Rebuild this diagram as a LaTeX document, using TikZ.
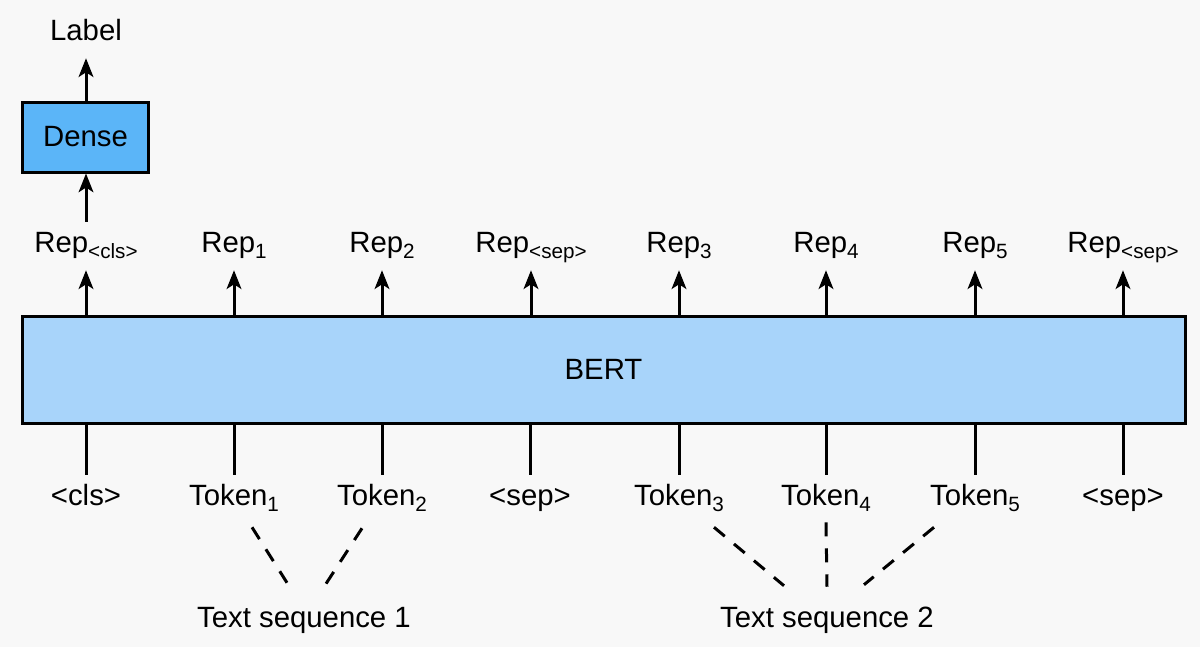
\documentclass[tikz,border=0pt]{standalone}
\usepackage{fontspec}
\setmainfont{Liberation Sans}
\usetikzlibrary{arrows.meta,calc}
\definecolor{bgc}{HTML}{F8F8F8}
\definecolor{bertc}{HTML}{A8D4FA}
\definecolor{densec}{HTML}{5BB5F8}
\newcommand{\subx}[1]{\raisebox{-4.5pt}{\fontsize{15.5}{15.5}\selectfont #1}}
\tikzset{
  lbl/.style={font=\fontsize{22}{26}\selectfont, text height=15pt, text depth=6pt, inner xsep=0pt, inner ysep=7.5pt, anchor=base},
  boxx/.style={draw=black, line width=2.25pt, font=\fontsize{22}{26}\selectfont, inner sep=0pt},
  arr/.style={line width=2.25pt, -{Stealth[length=14pt,width=11pt,inset=3.5pt]}},
  ln/.style={line width=2.25pt},
  dsh/.style={line width=2.25pt, dash pattern=on 10.5pt off 9pt}
}
\begin{document}
\begin{tikzpicture}[x=0.75pt,y=-0.75pt]
\path[fill=bgc] (0,0) rectangle (1200,647);
% main boxes
\node[boxx, fill=bertc, minimum width=872.25pt, minimum height=80.25pt] (bert) at (603.5,369.5) {BERT};
\node[boxx, fill=densec, minimum width=94.5pt, minimum height=52.5pt] (dense) at (85.5,137) {Dense};
\node[lbl] (label) at (86,40) {Label};
% representations
\node[lbl] (rcls) at (86,252) {Rep\subx{<cls>}};
\node[lbl] (r1) at (234,252) {Rep\subx{1}};
\node[lbl] (r2) at (382,252) {Rep\subx{2}};
\node[lbl] (rsepa) at (531,252) {Rep\subx{<sep>}};
\node[lbl] (r3) at (679,252) {Rep\subx{3}};
\node[lbl] (r4) at (826,252) {Rep\subx{4}};
\node[lbl] (r5) at (975,252) {Rep\subx{5}};
\node[lbl] (rsepb) at (1123,252) {Rep\subx{<sep>}};
% tokens
\node[lbl] (tcls) at (86,505) {<cls>};
\node[lbl] (t1) at (234,505) {Token\subx{1}};
\node[lbl] (t2) at (382,505) {Token\subx{2}};
\node[lbl] (tsepa) at (530,505) {<sep>};
\node[lbl] (t3) at (679,505) {Token\subx{3}};
\node[lbl] (t4) at (826,505) {Token\subx{4}};
\node[lbl] (t5) at (975,505) {Token\subx{5}};
\node[lbl] (tsepb) at (1123,505) {<sep>};
% text sequences
\node[lbl] (ts1) at (304,627) {Text sequence 1};
\node[lbl] (ts2) at (827,627) {Text sequence 2};
% arrows up
\draw[arr] (dense.north -| label) -- (label.south);
\draw[arr] (rcls.north) -- (dense.south -| rcls);
\foreach \r in {rcls,r1,r2,rsepa,r3,r4,r5,rsepb}
  \draw[arr] (bert.north -| \r) -- (\r.south);
\foreach \t in {tcls,t1,t2,tsepa,t3,t4,t5,tsepb}
  \draw[ln] (bert.south -| \t) -- (\t.north);
% dashed groupings
\draw[dsh] ($(t1.south)+(18,4)$) -- ($(ts1.north)+(-17,-14)$);
\draw[dsh] ($(t2.south)+(-20,5)$) -- ($(ts1.north)+(22,-13)$);
\draw[dsh] ($(t3.south)+(35,4)$) -- ($(ts2.north)+(-43,-11)$);
\draw[dsh] ($(t4.south)+(0,-1)$) -- ($(ts2.north)+(0,-10)$);
\draw[dsh] ($(t5.south)+(-41,4)$) -- ($(ts2.north)+(37,-12)$);
\end{tikzpicture}
\end{document}
